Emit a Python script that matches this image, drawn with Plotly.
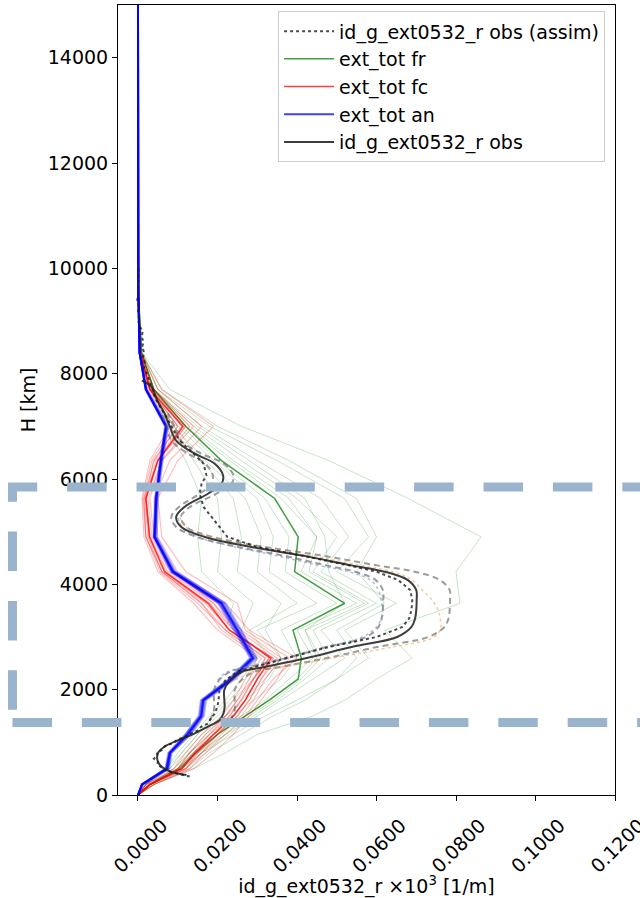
import plotly.graph_objects as go

# ---------------- data ----------------
# model levels (m)
levels = [0, 200, 500, 800, 1150, 1500, 1800, 2200, 2600, 3130, 3640, 4240,
          4900, 5630, 6350, 7000, 7700, 8400, 9500, 15000]

# forecast-run ensemble (ext_tot fr)
fr_members = [
    [0, 0.004, 0.014, 0.022, 0.030, 0.044, 0.052, 0.060, 0.069, 0.062, 0.081, 0.080, 0.0863, 0.068, 0.048, 0.026, 0.008, 0.001, 0.0002, 0],
    [0, 0.003, 0.011, 0.016, 0.024, 0.032, 0.040, 0.050, 0.058, 0.052, 0.065, 0.050, 0.058, 0.052, 0.035, 0.018, 0.005, 0.001, 0.0001, 0],
    [0, 0.003, 0.010, 0.015, 0.022, 0.030, 0.036, 0.044, 0.052, 0.046, 0.060, 0.046, 0.053, 0.046, 0.030, 0.016, 0.005, 0.001, 0.0001, 0],
    [0, 0.004, 0.012, 0.017, 0.023, 0.029, 0.035, 0.042, 0.048, 0.044, 0.058, 0.044, 0.050, 0.040, 0.026, 0.014, 0.004, 0.001, 0.0001, 0],
    [0, 0.003, 0.009, 0.013, 0.018, 0.024, 0.029, 0.036, 0.040, 0.036, 0.050, 0.037, 0.038, 0.032, 0.020, 0.011, 0.004, 0.0008, 0.0001, 0],
    [0, 0.003, 0.010, 0.014, 0.019, 0.026, 0.032, 0.038, 0.044, 0.040, 0.055, 0.041, 0.045, 0.038, 0.024, 0.013, 0.004, 0.0008, 0.0001, 0],
    [0, 0.002, 0.008, 0.012, 0.016, 0.022, 0.026, 0.032, 0.036, 0.030, 0.045, 0.033, 0.034, 0.030, 0.019, 0.010, 0.003, 0.0006, 0.0001, 0],
    [0, 0.002, 0.008, 0.011, 0.015, 0.020, 0.024, 0.029, 0.033, 0.028, 0.040, 0.030, 0.031, 0.027, 0.017, 0.009, 0.003, 0.0005, 0.0001, 0],
    [0, 0.003, 0.009, 0.013, 0.017, 0.022, 0.027, 0.033, 0.036, 0.032, 0.036, 0.025, 0.026, 0.024, 0.016, 0.009, 0.003, 0.0005, 0.0001, 0],
    [0, 0.002, 0.007, 0.010, 0.014, 0.018, 0.022, 0.026, 0.030, 0.026, 0.029, 0.020, 0.021, 0.020, 0.014, 0.008, 0.003, 0.0005, 0.0001, 0],
    [0, 0.004, 0.013, 0.018, 0.026, 0.034, 0.042, 0.050, 0.055, 0.050, 0.062, 0.055, 0.060, 0.055, 0.038, 0.020, 0.006, 0.001, 0.0001, 0],
    [0, 0.003, 0.010, 0.014, 0.020, 0.027, 0.033, 0.040, 0.045, 0.042, 0.052, 0.048, 0.047, 0.042, 0.028, 0.015, 0.004, 0.0008, 0.0001, 0],
    [0, 0.002, 0.007, 0.011, 0.015, 0.019, 0.023, 0.028, 0.030, 0.022, 0.024, 0.016, 0.015, 0.016, 0.012, 0.007, 0.002, 0.0004, 0.0001, 0],
    [0, 0.003, 0.011, 0.016, 0.022, 0.028, 0.034, 0.041, 0.046, 0.042, 0.057, 0.043, 0.045, 0.036, 0.023, 0.012, 0.004, 0.0008, 0.0001, 0],
]
fr_mean = [0, 0.003, 0.0105, 0.0145, 0.020, 0.027, 0.033, 0.0403, 0.0411, 0.039, 0.052, 0.0394,
           0.0403, 0.0344, 0.021, 0.012, 0.004, 0.0008, 0.0001, 0]

# first-guess ensemble (ext_tot fc)
fc_members = [
    [0, 0.003, 0.012, 0.016, 0.021, 0.026, 0.029, 0.032, 0.036, 0.026, 0.020, 0.008, 0.0035, 0.0025, 0.006, 0.013, 0.004, 0.0006, 0.0001, 0],
    [0, 0.002, 0.010, 0.013, 0.017, 0.022, 0.025, 0.028, 0.031, 0.021, 0.016, 0.006, 0.0025, 0.0018, 0.004, 0.010, 0.003, 0.0005, 0.0001, 0],
    [0, 0.003, 0.011, 0.015, 0.020, 0.025, 0.028, 0.031, 0.035, 0.025, 0.019, 0.0075, 0.003, 0.002, 0.005, 0.012, 0.0035, 0.0005, 0.0001, 0],
    [0, 0.004, 0.013, 0.017, 0.022, 0.027, 0.030, 0.034, 0.040, 0.028, 0.022, 0.010, 0.005, 0.004, 0.008, 0.016, 0.005, 0.0007, 0.0001, 0],
    [0, 0.002, 0.009, 0.012, 0.016, 0.021, 0.024, 0.027, 0.030, 0.020, 0.014, 0.005, 0.0015, 0.001, 0.003, 0.008, 0.0025, 0.0004, 0.0001, 0],
    [0, 0.003, 0.011, 0.014, 0.019, 0.023, 0.026, 0.029, 0.033, 0.024, 0.018, 0.007, 0.003, 0.002, 0.0045, 0.011, 0.003, 0.0005, 0.0001, 0],
    [0, 0.003, 0.012, 0.015, 0.020, 0.025, 0.028, 0.031, 0.034, 0.023, 0.017, 0.006, 0.002, 0.0015, 0.005, 0.012, 0.0035, 0.0005, 0.0001, 0],
    [0, 0.004, 0.014, 0.019, 0.024, 0.028, 0.031, 0.035, 0.038, 0.027, 0.025, 0.012, 0.006, 0.005, 0.010, 0.019, 0.006, 0.0008, 0.0001, 0],
    [0, 0.002, 0.010, 0.013, 0.018, 0.022, 0.025, 0.029, 0.032, 0.022, 0.015, 0.0055, 0.002, 0.0012, 0.0035, 0.009, 0.0028, 0.0004, 0.0001, 0],
    [0, 0.003, 0.011, 0.014, 0.019, 0.024, 0.027, 0.030, 0.034, 0.023, 0.018, 0.0065, 0.0028, 0.002, 0.005, 0.0115, 0.0032, 0.0005, 0.0001, 0],
    [0, 0.003, 0.012, 0.016, 0.020, 0.024, 0.027, 0.030, 0.032, 0.022, 0.016, 0.006, 0.002, 0.0015, 0.004, 0.010, 0.003, 0.0005, 0.0001, 0],
    [0, 0.003, 0.010, 0.014, 0.018, 0.023, 0.026, 0.029, 0.033, 0.024, 0.019, 0.009, 0.004, 0.003, 0.006, 0.014, 0.004, 0.0006, 0.0001, 0],
]
fc_mean = [0, 0.003, 0.011, 0.0145, 0.019, 0.024, 0.027, 0.030, 0.0335, 0.023, 0.0176, 0.0067,
           0.0029, 0.002, 0.005, 0.0113, 0.003, 0.0005, 0.0001, 0]

# analysis ensemble (ext_tot an)
an_members = [
    [0, 0.001, 0.007, 0.0078, 0.012, 0.0155, 0.016, 0.023, 0.0285, 0.0245, 0.0205, 0.0085, 0.004, 0.0044, 0.0056, 0.0069, 0.0019, 0.0004, 0.0001, 0],
    [0, 0.0012, 0.0076, 0.0083, 0.013, 0.0163, 0.0168, 0.024, 0.0294, 0.0256, 0.0216, 0.0092, 0.0045, 0.0048, 0.006, 0.0074, 0.0021, 0.0004, 0.0001, 0],
    [0, 0.001, 0.0072, 0.0079, 0.0124, 0.0158, 0.0163, 0.0233, 0.0287, 0.0248, 0.0208, 0.0087, 0.0041, 0.0045, 0.0057, 0.007, 0.002, 0.0004, 0.0001, 0],
    [0, 0.0011, 0.0075, 0.0082, 0.0128, 0.0161, 0.0166, 0.0238, 0.0292, 0.0253, 0.0213, 0.009, 0.0043, 0.0047, 0.0059, 0.0072, 0.002, 0.0004, 0.0001, 0],
    [0, 0.0009, 0.0069, 0.0076, 0.0119, 0.0153, 0.0158, 0.0228, 0.0282, 0.0242, 0.0202, 0.0083, 0.0039, 0.0043, 0.0055, 0.0068, 0.0019, 0.0004, 0.0001, 0],
    [0, 0.0013, 0.0078, 0.0085, 0.0133, 0.0166, 0.0171, 0.0243, 0.0298, 0.026, 0.022, 0.0095, 0.0047, 0.005, 0.0062, 0.0076, 0.0022, 0.0004, 0.0001, 0],
    [0, 0.001, 0.0074, 0.0081, 0.0126, 0.016, 0.0165, 0.0236, 0.029, 0.0251, 0.0211, 0.0089, 0.0042, 0.0046, 0.0058, 0.0071, 0.002, 0.0004, 0.0001, 0],
    [0, 0.0011, 0.0071, 0.008, 0.0122, 0.0157, 0.0162, 0.0232, 0.0286, 0.0247, 0.0207, 0.0086, 0.0041, 0.0045, 0.0057, 0.007, 0.002, 0.0004, 0.0001, 0],
]
an_mean = [0, 0.001, 0.0073, 0.008, 0.0125, 0.0159, 0.0164, 0.0235, 0.0289, 0.025, 0.021, 0.0088,
           0.0042, 0.0046, 0.0058, 0.0071, 0.002, 0.0004, 0.0001, 0]

# smoothed observation profile (obs)
obs_h = [380, 440, 540, 660, 790, 920, 1040, 1170, 1300, 1420, 1550, 1680, 1830, 1990, 2180,
         2340, 2430, 2590, 2810, 3000, 3190, 3350, 3510, 3700, 3890, 4080, 4240, 4360, 4550,
         4710, 4900, 5090, 5280, 5470, 5720, 5910, 6070, 6290, 6480, 6730, 7000, 7240, 7500,
         7750, 7870]
obs_v = [0.0122, 0.0084, 0.0059, 0.0049, 0.0050, 0.0067, 0.0101, 0.0143, 0.0176, 0.0205,
         0.0215, 0.0218, 0.0217, 0.0217, 0.0232, 0.0262, 0.0319, 0.0419, 0.0537, 0.0652,
         0.0688, 0.0697, 0.0700, 0.0701, 0.0700, 0.0679, 0.0621, 0.0537, 0.0411, 0.0285,
         0.0168, 0.0109, 0.0096, 0.0117, 0.0176, 0.0210, 0.0214, 0.0193, 0.0143, 0.0096,
         0.0080, 0.0067, 0.0048, 0.0034, 0.0010]

# uncertainty envelope of obs (gray dashed)
env_h = [1420, 1550, 1680, 1830, 1990, 2180, 2340, 2430, 2590, 2810, 3000, 3190, 3350, 3510,
         3700, 3890, 4080, 4240, 4360, 4550, 4710, 4900, 5090, 5280, 5470, 5720, 5910, 6070,
         6290, 6480, 6730, 7000, 7240]
env_lo = [0.0180, 0.0189, 0.0192, 0.0191, 0.0191, 0.0204, 0.0231, 0.0281, 0.0369, 0.0473,
          0.0574, 0.0605, 0.0613, 0.0616, 0.0617, 0.0616, 0.0598, 0.0546, 0.0473, 0.0362,
          0.0251, 0.0148, 0.0096, 0.0084, 0.0103, 0.0155, 0.0185, 0.0188, 0.0170, 0.0126,
          0.0084, 0.0072, 0.0059]
env_hi = [0.0230, 0.0241, 0.0244, 0.0243, 0.0243, 0.0260, 0.0293, 0.0357, 0.0469, 0.0601,
          0.0730, 0.0771, 0.0781, 0.0784, 0.0785, 0.0784, 0.0760, 0.0696, 0.0601, 0.0460,
          0.0319, 0.0188, 0.0122, 0.0108, 0.0131, 0.0197, 0.0235, 0.0240, 0.0216, 0.0160,
          0.0108, 0.0092, 0.0075]

# faint extra observation profiles (dotted)
aux_h = [2180, 2340, 2430, 2590, 2810, 3000, 3190, 3350, 3510, 3700, 3890, 4080, 4240, 4360,
         4550, 4710, 4900, 5090, 5280]
aux_blue = [0.0200, 0.0225, 0.0270, 0.0360, 0.0470, 0.0565, 0.0600, 0.0612, 0.0615, 0.0612,
            0.0605, 0.0585, 0.0530, 0.0455, 0.0345, 0.0245, 0.0150, 0.0110, 0.0100]
aux_orange = [0.0245, 0.0290, 0.0360, 0.0480, 0.0640, 0.0745, 0.0762, 0.0760, 0.0755, 0.0740,
              0.0715, 0.0690, 0.0640, 0.0560, 0.0430, 0.0300, 0.0180, 0.0120, 0.0105]

# raw observation profile used in assimilation (obs (assim))
assim_h = [10000, 9900, 9800, 9700, 9600, 9500, 9400, 9300, 9200, 9100, 9000, 8900, 8800,
           8700, 8600, 8500, 8400, 8300, 8200, 8100, 8000, 7900, 7800, 7700, 7600, 7500,
           7240, 7000, 6730, 6480, 6290, 6070, 5910, 5720, 5470, 5280, 5090, 4900, 4710,
           4550, 4360, 4240, 4080, 3890, 3700, 3510, 3350, 3190, 3000, 2810, 2590, 2430,
           2340, 2180, 1990, 1830, 1680, 1550, 1420, 1350, 1290, 1230, 1170, 1110, 1050,
           990, 930, 870, 810, 750, 690, 630, 570, 510, 450, 400, 370, 350]
assim_v = [0.0002, 0.0000, 0.0003, -0.0001, 0.0002, 0.0001, -0.0002, 0.0002, 0.0000, 0.0003,
           0.0001, 0.0004, 0.0012, 0.0009, 0.0014, 0.0010, 0.0016, 0.0012, 0.0018, 0.0015,
           0.0022, 0.0027, 0.0031, 0.0037, 0.0040, 0.0046, 0.0066, 0.0085, 0.0105, 0.0140,
           0.0165, 0.0172, 0.0160, 0.0155, 0.0165, 0.0185, 0.0205, 0.0225, 0.0300, 0.0410,
           0.0530, 0.0600, 0.0655, 0.0685, 0.0690, 0.0688, 0.0682, 0.0665, 0.0600, 0.0480,
           0.0370, 0.0290, 0.0250, 0.0220, 0.0205, 0.0203, 0.0200, 0.0193, 0.0180, 0.0174,
           0.0158, 0.0152, 0.0133, 0.0122, 0.0098, 0.0090, 0.0068, 0.0064, 0.0048, 0.0049,
           0.0040, 0.0050, 0.0049, 0.0064, 0.0073, 0.0102, 0.0116, 0.0130]

# highlighted layer (m) and axis settings
layer_bottom, layer_top = 1375, 5850
x_ticks = [0.0, 0.02, 0.04, 0.06, 0.08, 0.10, 0.12]
y_ticks = [0, 2000, 4000, 6000, 8000, 10000, 12000, 14000]

# ---------------- figure ----------------
FONT = "DejaVu Sans"
fig = go.Figure()

for m in fr_members:
    fig.add_trace(go.Scatter(x=m, y=levels, mode="lines", showlegend=False, hoverinfo="skip",
                             line=dict(color="rgba(0,128,0,0.22)", width=1)))
fig.add_trace(go.Scatter(x=fr_mean, y=levels, mode="lines", name="ext_tot fr", legendrank=2,
                         line=dict(color="rgba(0,128,0,0.75)", width=1.5)))

for m in fc_members:
    fig.add_trace(go.Scatter(x=m, y=levels, mode="lines", showlegend=False, hoverinfo="skip",
                             line=dict(color="rgba(255,0,0,0.25)", width=1.2)))
fig.add_trace(go.Scatter(x=fc_mean, y=levels, mode="lines", name="ext_tot fc", legendrank=3,
                         line=dict(color="rgba(255,0,0,0.75)", width=1.5)))

for m in an_members:
    fig.add_trace(go.Scatter(x=m, y=levels, mode="lines", showlegend=False, hoverinfo="skip",
                             line=dict(color="rgba(0,0,255,0.3)", width=2)))
fig.add_trace(go.Scatter(x=an_mean, y=levels, mode="lines", name="ext_tot an", legendrank=4,
                         line=dict(color="rgba(0,0,255,0.75)", width=2)))

for v in (env_lo, env_hi):
    fig.add_trace(go.Scatter(x=v, y=env_h, mode="lines", showlegend=False, hoverinfo="skip",
                             line=dict(color="rgba(90,90,90,0.6)", width=2, dash="6px,4px"),
                             line_shape="spline"))
fig.add_trace(go.Scatter(x=aux_blue, y=aux_h, mode="lines", showlegend=False, hoverinfo="skip",
                         line=dict(color="rgba(120,150,200,0.6)", width=1.5, dash="dot"),
                         line_shape="spline"))
fig.add_trace(go.Scatter(x=aux_orange, y=aux_h, mode="lines", showlegend=False, hoverinfo="skip",
                         line=dict(color="rgba(240,150,60,0.5)", width=1.5, dash="dot"),
                         line_shape="spline"))

fig.add_trace(go.Scatter(x=obs_v, y=obs_h, mode="lines", name="id_g_ext0532_r obs", legendrank=5,
                         line=dict(color="rgba(40,40,40,0.9)", width=2), line_shape="spline"))
fig.add_trace(go.Scatter(x=assim_v, y=assim_h, mode="lines", name="id_g_ext0532_r obs (assim)",
                         legendrank=1,
                         line=dict(color="rgba(30,30,30,0.8)", width=2, dash="dot")))

# dashed rectangle marking the layer
xl, xr = -0.2123, 1.1115
fig.add_shape(type="path", xref="paper", yref="y", layer="above",
              path=f"M {xl},{layer_bottom} H {xr} V {layer_top} H {xl} Z",
              line=dict(color="rgb(155,180,205)", width=9, dash="39.5px,29.9px"))

axis_common = dict(showgrid=False, zeroline=False, showline=True, mirror=True,
                   linecolor="black", linewidth=1, ticks="outside", ticklen=5,
                   tickcolor="black", automargin=False,
                   tickfont=dict(family=FONT, size=19, color="black"))

fig.update_layout(
    width=640, height=898,
    margin=dict(l=118, r=25, t=5, b=103, autoexpand=False),
    paper_bgcolor="white", plot_bgcolor="white",
    font=dict(family=FONT, size=19, color="black"),
    showlegend=True,
    legend=dict(x=0.98, y=0.992, xanchor="right", yanchor="top",
                bgcolor="rgba(255,255,255,0.85)", bordercolor="#cccccc", borderwidth=1,
                font=dict(family=FONT, size=19, color="black"), itemwidth=50,
                tracegroupgap=0),
    xaxis=dict(range=[-0.00503, 0.12], tickvals=x_ticks, tickformat=".4f", tickangle=-45,
               ticklabelshift=24, ticklabelstandoff=6, ticklabeloverflow="allow",
               title=dict(text="id_g_ext0532_r ×10<sup>3</sup> [1/m]",
                          font=dict(family=FONT, size=19), standoff=4),
               **axis_common),
    yaxis=dict(range=[0, 15000], tickvals=y_ticks, tickformat="d",
               title=dict(text="H [km]", font=dict(family=FONT, size=19), standoff=7),
               **axis_common),
)

fig.write_html("out.html", config={"displayModeBar": False},
               post_script="document.body.style.margin='0px';document.body.style.overflow='hidden';")
